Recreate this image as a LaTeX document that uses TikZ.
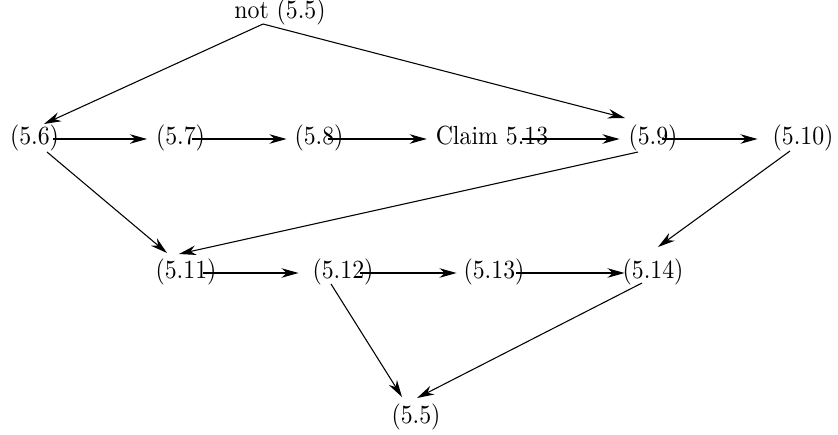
\documentclass[tikz,border=0pt]{standalone}
\usetikzlibrary{arrows.meta,calc}
\newcommand\tallt[1]{\scalebox{1}[1.1]{#1}}
\begin{document}
\begin{tikzpicture}[x=0.42pt,y=-0.42pt,
  lbl/.style={inner sep=0pt,outer sep=0pt,text height=8.25pt,text depth=2.75pt,font=\fontsize{10}{12}\selectfont},
  arr/.style={draw=black,line width=0.45pt,-{Stealth[length=7.2pt,width=4pt,inset=2.3pt]}}]
\useasboundingbox (0,0) rectangle (838,434);
\node[lbl] (top) at (280,12) {\tallt{not (5.5)}};
\node[lbl] (n6) at (34.5,138) {\tallt{(5.6)}};
\node[lbl] (n7) at (180.5,138) {\tallt{(5.7)}};
\node[lbl] (n8) at (319,138) {\tallt{(5.8)}};
\node[lbl] (cl) at (492,138) {\tallt{Claim 5.13}};
\node[lbl] (n9) at (653,138) {\tallt{(5.9)}};
\node[lbl] (n10) at (803,138) {\tallt{(5.10)}};
\node[lbl] (n11) at (186,272) {\tallt{(5.11)}};
\node[lbl] (n12) at (343,272) {\tallt{(5.12)}};
\node[lbl] (n13) at (494,272) {\tallt{(5.13)}};
\node[lbl] (n14) at (653,272) {\tallt{(5.14)}};
\node[lbl] (n5) at (416,417) {\tallt{(5.5)}};
% horizontal arrows
\draw[arr] ($(n6.east)+(-6,1)$) -- ($(n7.west)+(-9,1)$);
\draw[arr] ($(n7.east)+(-13,1)$) -- ($(n8.west)+(-8,1)$);
\draw[arr] ($(n8.east)+(-15,1)$) -- ($(cl.west)+(-9,1)$);
\draw[arr] ($(cl.east)+(-26,1)$) -- ($(n9.west)+(-9,1)$);
\draw[arr] ($(n9.east)+(-15,1)$) -- ($(n10.west)+(-15,1)$);
\draw[arr] ($(n11.east)+(-13,1)$) -- ($(n12.west)+(-14,1)$);
\draw[arr] ($(n12.east)+(-13,1)$) -- ($(n13.west)+(-7,1)$);
\draw[arr] ($(n13.east)+(-8,1)$) -- ($(n14.west)+(2,1)$);
% diagonal arrows
\draw[arr] ($(top)+(-17,12)$) -- ($(n6)+(9.5,-14)$);
\draw[arr] ($(top)+(-17,12)$) -- ($(n9)+(-28,-20)$);
\draw[arr] ($(n6)+(12.5,14)$) -- ($(n11)+(-19,-19)$);
\draw[arr] ($(n9)+(-15,14)$) -- ($(n11)+(-7,-18)$);
\draw[arr] ($(n10)+(-13,13)$) -- ($(n14)+(5,-25)$);
\draw[arr] ($(n12)+(-12,12)$) -- ($(n5)+(-14,-20)$);
\draw[arr] ($(n14)+(-11,11)$) -- ($(n5)+(1,-19)$);
\end{tikzpicture}
\end{document}
